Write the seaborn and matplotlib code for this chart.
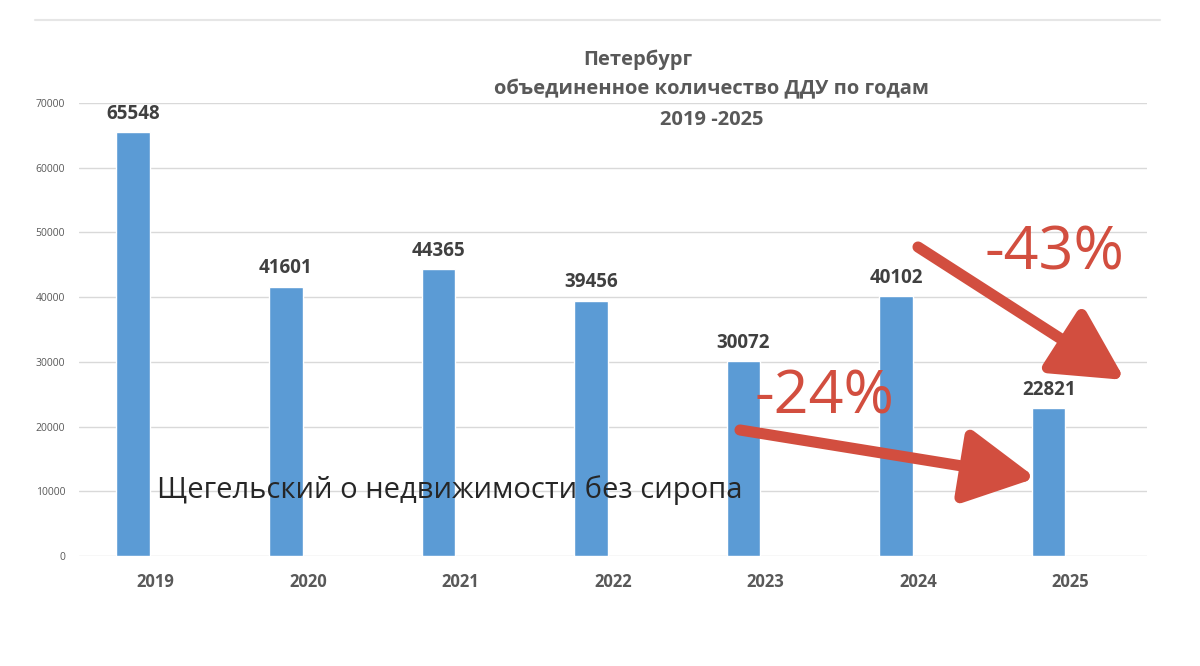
import matplotlib
matplotlib.use('Agg')
import matplotlib.pyplot as plt
import pandas as pd
import seaborn as sns

years = ['2019', '2020', '2021', '2022', '2023', '2024', '2025']
ddu_count = [65548, 41601, 44365, 39456, 30072, 40102, 22821]
y_ticks = [0, 10000, 20000, 30000, 40000, 50000, 60000, 70000]

df = pd.DataFrame({'year': years, 'count': ddu_count})

sns.set_theme(style='white')
plt.rcParams['font.family'] = ['Open Sans', 'DejaVu Sans']

fig = plt.figure(figsize=(12, 6.66), dpi=100)
ax = fig.add_axes([0.0658, 0.1652, 0.8900, 0.6801])

sns.barplot(data=df, x='year', y='count', color='#5b9bd5', width=0.22,
            saturation=1, ax=ax)

# bars sit left of the category centre, like the excel original
for p in ax.patches:
    p.set_x(p.get_x() - 0.144)

ax.set_xlim(-0.5, 6.5)
ax.set_ylim(0, 70000)
ax.set_yticks(y_ticks)
ax.set_yticklabels([str(t) for t in y_ticks], fontsize=7.5, color='#595959')
ax.set_xticks(range(len(years)))
ax.set_xticklabels(years, fontsize=12, fontweight='bold', color='#595959')
ax.tick_params(axis='x', length=0, pad=12)
ax.tick_params(axis='y', length=0, pad=10)
ax.set_xlabel('')
ax.set_ylabel('')
ax.grid(axis='y', color='#d9d9d9', linewidth=1)
ax.set_axisbelow(True)
for s in ax.spines.values():
    s.set_visible(False)

for p, v in zip(ax.patches, ddu_count):
    ax.annotate(str(v), (p.get_x() + p.get_width() / 2, v), xytext=(0, 6),
                textcoords='offset points', ha='center', va='bottom',
                fontsize=13.5, fontweight='bold', color='#404040')

# title
fig.text(583 / 1200, 1 - 60 / 666, 'Петербург', ha='left', va='center',
         fontsize=14.5, fontweight='bold', color='#595959')
fig.text(712 / 1200, 1 - 89 / 666, 'объединенное количество ДДУ по годам',
         ha='center', va='center', fontsize=14.5, fontweight='bold', color='#595959')
fig.text(712 / 1200, 1 - 120 / 666, '2019 -2025', ha='center', va='center',
         fontsize=14.5, fontweight='bold', color='#595959')

# top border line
fig.add_artist(plt.Line2D([35 / 1200, 1160 / 1200], [1 - 20 / 666, 1 - 20 / 666],
                          color='#e6e6e6', linewidth=1.5))

fig.text(157 / 1200, 1 - 490 / 666, 'Щегельский о недвижимости без сиропа',
         ha='left', va='center', fontsize=21, color='#262626')

red = '#d24e3f'
fig.text(1054 / 1200, 1 - 254 / 666, '-43%', ha='center', va='center',
         fontsize=44, color=red)
fig.text(824 / 1200, 1 - 398 / 666, '-24%', ha='center', va='center',
         fontsize=44, color=red)

arrow = dict(arrowstyle='-|>,head_length=3.6,head_width=1.9', color=red,
             linewidth=8, capstyle='round', shrinkA=0, shrinkB=0)
ax.annotate('', xy=(1125, 666 - 380), xycoords='figure pixels',
            xytext=(918, 666 - 247), textcoords='figure pixels', arrowprops=arrow)
ax.annotate('', xy=(1036, 666 - 478), xycoords='figure pixels',
            xytext=(740, 666 - 430), textcoords='figure pixels', arrowprops=arrow)

fig.savefig('out.png', dpi=100)
